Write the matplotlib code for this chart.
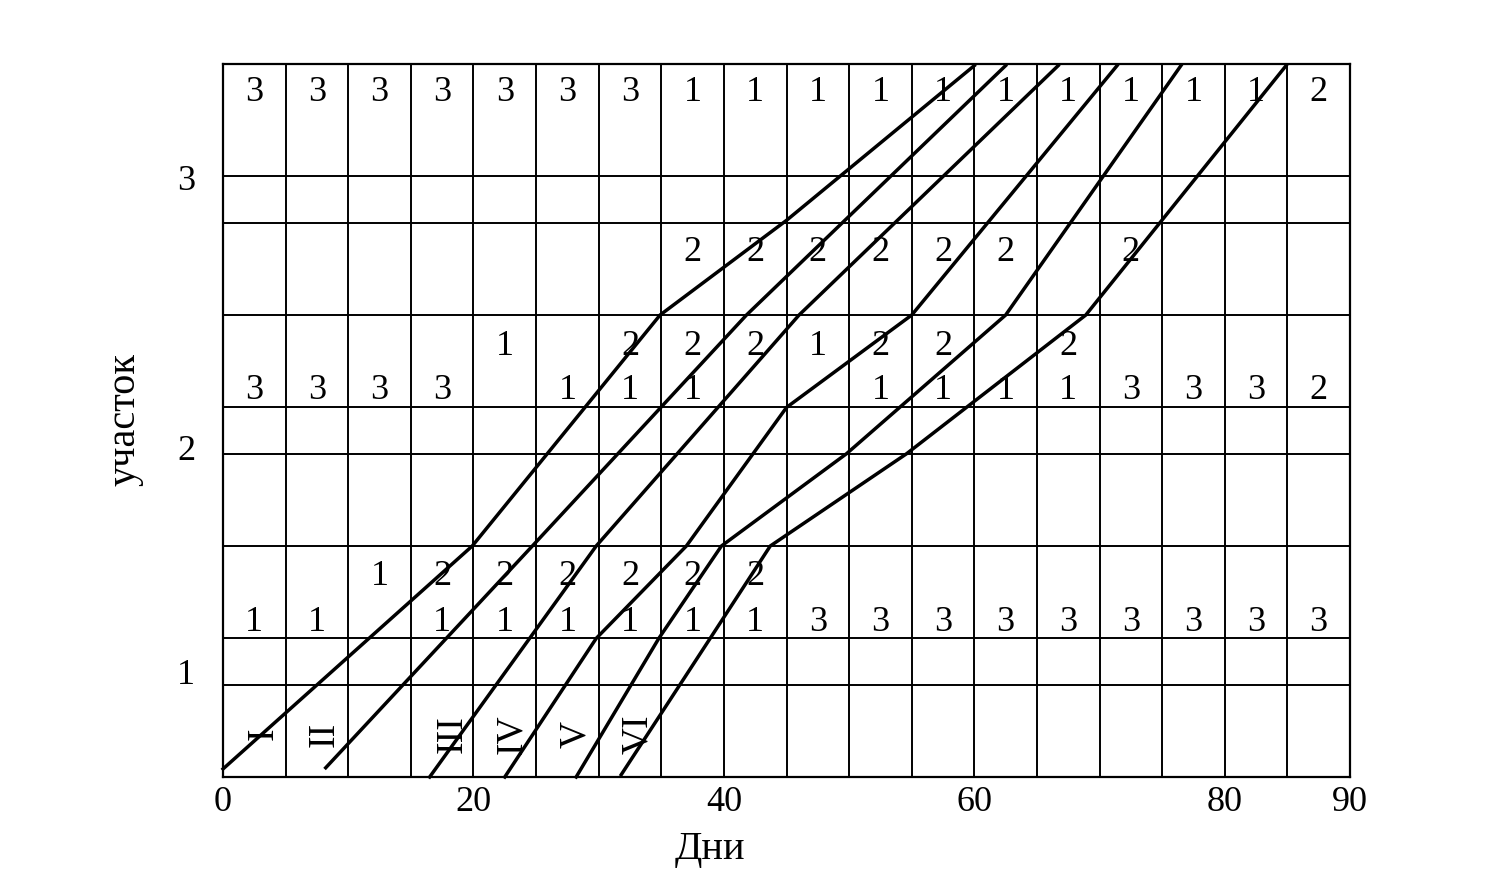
import matplotlib
matplotlib.use('Agg')
from matplotlib import pyplot as plt

plt.rcParams['font.family'] = ['Liberation Serif', 'DejaVu Serif']

# brigade lines: day vs. progress (sections 1..3, each split 0.4 / 0.6 / 1.0)
brigades = ['I', 'II', 'III', 'IV', 'V', 'VI']
days_I = [0, 19.9, 34.9, 45.0, 60.0]
prog_I = [0.035, 1.0, 2.0, 2.41, 3.08]
days_II = [8.2, 24.7, 41.8, 62.5]
prog_II = [0.04, 1.0, 2.0, 3.08]
days_III = [16.5, 29.8, 46.0, 66.7]
prog_III = [0.0, 1.0, 2.0, 3.08]
days_IV = [22.5, 29.8, 37.0, 45.0, 55.0, 71.4]
prog_IV = [0.0, 0.6, 1.0, 1.6, 2.0, 3.08]
days_V = [28.2, 34.8, 39.8, 49.8, 62.5, 76.5]
prog_V = [0.0, 0.6, 1.0, 1.4, 2.0, 3.08]
days_VI = [31.8, 38.9, 43.7, 54.6, 68.9, 84.9]
prog_VI = [0.01, 0.6, 1.0, 1.4, 2.0, 3.08]

# where the roman labels sit (day)
label_days = [3.2, 8.1, 18.3, 23.1, 28.2, 33.1]

# digits written in the 5-day columns, one list per row (top to bottom)
row_top = ['3', '3', '3', '3', '3', '3', '3', '1', '1', '1', '1', '1', '1', '1', '1', '1', '1', '2']
row_s3 = ['', '', '', '', '', '', '', '2', '2', '2', '2', '2', '2', '', '2', '', '', '']
row_s2a = ['', '', '', '', '1', '', '2', '2', '2', '1', '2', '2', '', '2', '', '', '', '']
row_s2b = ['3', '3', '3', '3', '', '1', '1', '1', '', '', '1', '1', '1', '1', '3', '3', '3', '2']
row_s1a = ['', '', '1', '2', '2', '2', '2', '2', '2', '', '', '', '', '', '', '', '', '']
row_s1b = ['1', '1', '', '1', '1', '1', '1', '1', '1', '3', '3', '3', '3', '3', '3', '3', '3', '3']

x_ticks = [0, 20, 40, 60, 80, 90]
y_labels = ['1', '2', '3']

fig = plt.figure(figsize=(14.94, 8.78), dpi=100)
ax = fig.add_axes([0.1493, 0.1139, 0.7543, 0.8121])
top = 3.087
ax.set_xlim(0, 90)
ax.set_ylim(0, top)

# grid
for d in range(5, 90, 5):
    ax.axvline(d, color='black', lw=1.4)
for h in [0.4, 0.6, 1.0, 1.4, 1.6, 2.0, 2.4, 2.6]:
    ax.axhline(h, color='black', lw=1.4)
for s in ax.spines.values():
    s.set_linewidth(1.6)

lines = [(days_I, prog_I), (days_II, prog_II), (days_III, prog_III),
         (days_IV, prog_IV), (days_V, prog_V), (days_VI, prog_VI)]
for (d, p), name, ld in zip(lines, brigades, label_days):
    ax.plot(d, p, color='black', lw=2.5, solid_joinstyle='round', clip_on=False)
    ax.text(ld, 0.19, name, rotation=90, ha='center', va='center', fontsize=27)

rows = [(row_top, 2.93), (row_s3, 2.24), (row_s2a, 1.83),
        (row_s2b, 1.64), (row_s1a, 0.837), (row_s1b, 0.638)]
for vals, yb in rows:
    for i, v in enumerate(vals):
        if v:
            ax.text(2.5 + 5 * i, yb, v, ha='center', va='baseline', fontsize=26)

ax.set_xticks(x_ticks)
ax.set_xticklabels([str(t) for t in x_ticks], fontsize=26)
ax.set_yticks([0.46, 1.43, 2.6])
ax.set_yticklabels(y_labels, fontsize=26)
ax.tick_params(length=0)
ax.tick_params(axis='x', pad=6)
ax.tick_params(axis='y', pad=20)

fig.text(0.475, 0.032, 'Дни', ha='center', va='center', fontsize=29)
fig.text(0.084, 0.522, 'участок', ha='center', va='center', rotation=90, fontsize=29)

fig.savefig('out.png', dpi=100)
